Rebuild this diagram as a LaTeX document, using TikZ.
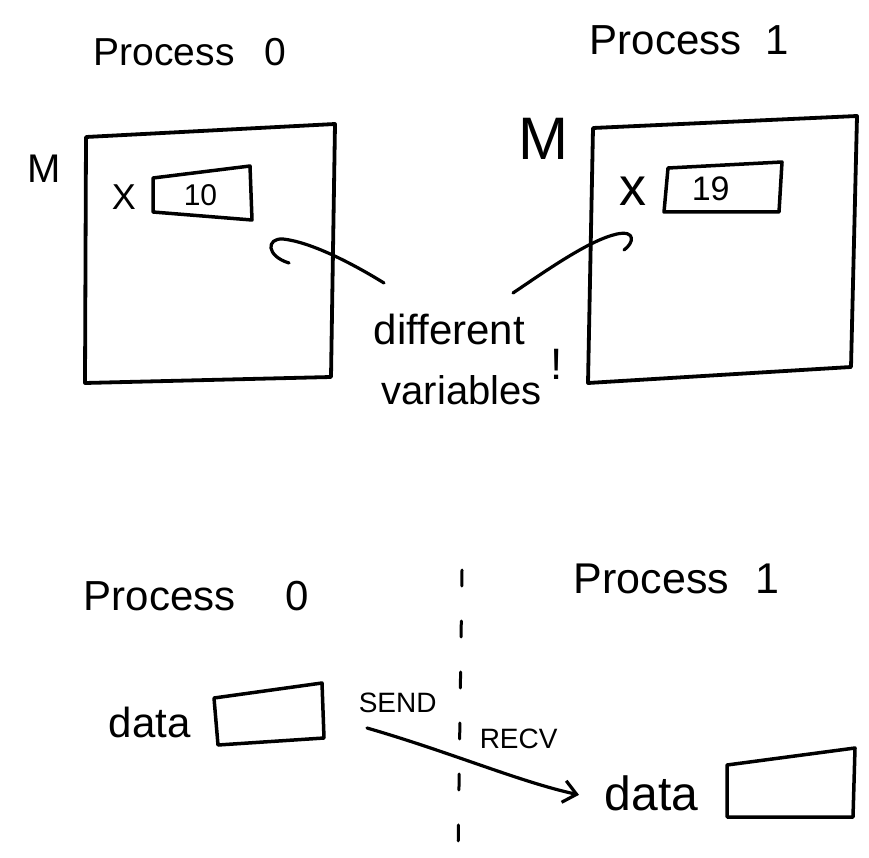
\documentclass[tikz,border=0pt]{standalone}
\usepackage{fontspec}
\setmainfont{Liberation Sans}
\usetikzlibrary{arrows.meta}
\newcommand\hwsize[1]{\fontsize{#1}{#1}\selectfont}
\begin{document}
\begin{tikzpicture}[x=1pt,y=-1pt,line width=3.5pt,line cap=round,line join=round,
  lbl/.style={inner sep=0pt,anchor=base west},
  memline/.style={line width=3.8pt},
  boxline/.style={line width=3.5pt},
  hook/.style={line width=3.2pt},
  divider/.style={line width=3pt,dash pattern=on 16pt off 35pt}]
\useasboundingbox (0,0) rectangle (869,858);

% ---------- top half ----------
\node[lbl,font=\hwsize{39}] (p0a) at (92,66) {Process\hspace{30pt}0};
\node[lbl,font=\hwsize{42}] (p1a) at (588,55) {Process\hspace{24pt}1};

% memory boxes
\coordinate (m0a) at (86,137);  \coordinate (m0b) at (335,124);
\coordinate (m0c) at (331,377); \coordinate (m0d) at (85,383);
\draw[memline] (m0a) -- (m0b) -- (m0c) -- (m0d) -- cycle;
\coordinate (m1a) at (593,128); \coordinate (m1b) at (857,116);
\coordinate (m1c) at (851,367); \coordinate (m1d) at (588,383);
\draw[memline] (m1a) -- (m1b) -- (m1c) -- (m1d) -- cycle;

\node[lbl,font=\hwsize{40}] (M0) at (26,183) {M};
\node[lbl,font=\hwsize{60}] (M1) at (517,160) {M};

% variable x
\node[lbl,font=\hwsize{36}] (x0) at (110,210) {X};
\coordinate (v0a) at (153,178); \coordinate (v0b) at (250,166);
\coordinate (v0c) at (252,220); \coordinate (v0d) at (153,212);
\draw[boxline] (v0a) -- (v0b) -- (v0c) -- (v0d) -- cycle;
\node[lbl,font=\hwsize{30}] (val0) at (182,206) {10};

\node[lbl,font=\hwsize{54}] (x1) at (618,206) {x};
\coordinate (v1a) at (668,168); \coordinate (v1b) at (782,162);
\coordinate (v1c) at (779,212); \coordinate (v1d) at (664,212);
\draw[boxline] (v1a) -- (v1b) -- (v1c) -- (v1d) -- cycle;
\node[lbl,font=\hwsize{34}] (val1) at (690,201) {19};

% label
\node[lbl,font=\hwsize{42}] (diff) at (372,344) {different};
\node[lbl,font=\hwsize{40}] (vars) at (380,404) {variables};
\node[lbl,font=\hwsize{44}] (excl) at (549,379) {!};

\coordinate (la) at (384,283);
\coordinate (ra) at (513,293);
\draw[hook] (la) .. controls (350,262) and (310,242) .. (283,239)
  .. controls (266,238) and (266,256) .. (289,263);
\draw[hook] (ra) .. controls (550,268) and (590,240) .. (617,234)
  .. controls (636,230) and (634,243) .. (624,250);

% ---------- bottom half ----------
\node[lbl,font=\hwsize{42}] (p0b) at (82,610) {Process\hspace{50pt}0};
\node[lbl,font=\hwsize{43}] (p1b) at (572,593) {Process\hspace{26pt}1};

\coordinate (dtop) at (462,570);
\coordinate (dbot) at (458,858);
\draw[divider] (dtop) -- (dbot);

\node[lbl,font=\hwsize{42}] (d0) at (107,737) {data};
\coordinate (b0a) at (214,698); \coordinate (b0b) at (322,683);
\coordinate (b0c) at (324,738); \coordinate (b0d) at (218,745);
\draw[boxline] (b0a) -- (b0b) -- (b0c) -- (b0d) -- cycle;

\node[lbl,font=\hwsize{48}] (d1) at (603,810) {data};
\coordinate (b1a) at (727,765); \coordinate (b1b) at (855,748);
\coordinate (b1c) at (853,817); \coordinate (b1d) at (727,817);
\draw[boxline] (b1a) -- (b1b) -- (b1c) -- (b1d) -- cycle;

\node[lbl,font=\hwsize{28}] (send) at (357,712) {SEND};
\node[lbl,font=\hwsize{28}] (recv) at (478,748) {RECV};

\coordinate (sa) at (367,728);
\coordinate (sb) at ([xshift=-24pt,yshift=-2pt]d1.west);
\draw[hook,-{Straight Barb[length=13pt,width=22pt]}] (sa) .. controls (450,752) and (520,782) .. (sb);
\end{tikzpicture}
\end{document}
